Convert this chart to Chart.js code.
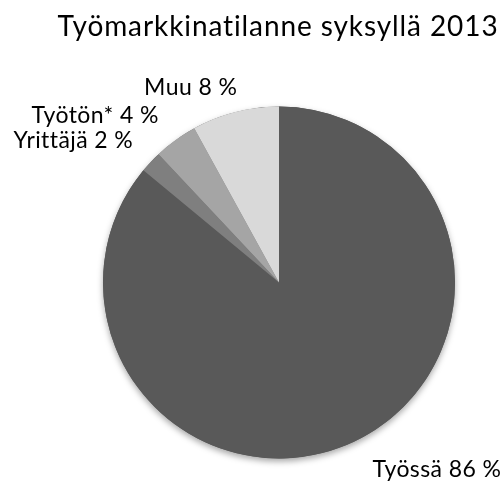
<!DOCTYPE html>
<html>
<head>
<meta charset="utf-8">
<script src="https://cdn.jsdelivr.net/npm/chart.js@4.4.0/dist/chart.umd.min.js"></script>
<style>
  html, body { margin: 0; padding: 0; background: #fff; }
  #wrap { width: 503px; height: 481px; }
</style>
</head>
<body>
<div id="wrap"><canvas id="pie"></canvas></div>
<script>
// data
const titleText = "Työmarkkinatilanne syksyllä 2013";
const categories = ["Työssä", "Yrittäjä", "Työtön*", "Muu"];
const shares = [86, 2, 4, 8];
const sliceColors = ["#595959", "#7f7f7f", "#a5a5a5", "#d9d9d9"];

const FONT = "Lato, 'Open Sans', sans-serif";

// soft shadow under the whole pie, drawn from the arc geometry
const pieShadow = {
  id: "pieShadow",
  beforeDatasetsDraw(chart) {
    const arc = chart.getDatasetMeta(0).data[0];
    if (!arc) return;
    const { x, y, outerRadius } = arc.getProps(["x", "y", "outerRadius"], true);
    const ctx = chart.ctx;
    ctx.save();
    ctx.shadowColor = "rgba(0,0,0,0.35)";
    ctx.shadowBlur = 6;
    ctx.shadowOffsetY = 3;
    ctx.fillStyle = sliceColors[0];
    ctx.beginPath();
    ctx.arc(x, y, outerRadius, 0, Math.PI * 2);
    ctx.fill();
    ctx.restore();
  }
};

// title + outside labels like the excel original
const textLayer = {
  id: "textLayer",
  afterDraw(chart) {
    const ctx = chart.ctx;
    ctx.save();
    ctx.fillStyle = "#000";
    ctx.textBaseline = "alphabetic";

    ctx.font = "28px " + FONT;
    ctx.letterSpacing = "0.9px";
    ctx.textAlign = "center";
    ctx.fillText(titleText, 278, 36);

    // nudges to mimic excel's best-fit placement
    const nudge = [[10, 17], [-3, -0.5], [-5, -1], [7, 2]];
    ctx.font = "23px " + FONT;
    ctx.letterSpacing = "0.4px";
    chart.getDatasetMeta(0).data.forEach((arc, i) => {
      const p = arc.getProps(["x", "y", "startAngle", "endAngle", "outerRadius"], true);
      const mid = (p.startAngle + p.endAngle) / 2;
      const r = p.outerRadius + 20;
      const ax = p.x + Math.cos(mid) * r + nudge[i][0];
      const ay = p.y + Math.sin(mid) * r + nudge[i][1];
      ctx.textAlign = Math.cos(mid) >= 0 ? "left" : "right";
      ctx.fillText(categories[i] + " " + shares[i] + " %", ax, ay);
    });
    ctx.restore();
  }
};

new Chart(document.getElementById("pie"), {
  type: "pie",
  data: {
    labels: categories,
    datasets: [{
      data: shares,
      backgroundColor: sliceColors,
      borderWidth: 0
    }]
  },
  options: {
    responsive: true,
    maintainAspectRatio: false,
    animation: false,
    layout: { padding: { left: 103, right: 48, top: 106.5, bottom: 22.5 } },
    plugins: {
      legend: { display: false },
      title: { display: false },
      tooltip: { enabled: false }
    }
  },
  plugins: [pieShadow, textLayer]
});
</script>
</body>
</html>
